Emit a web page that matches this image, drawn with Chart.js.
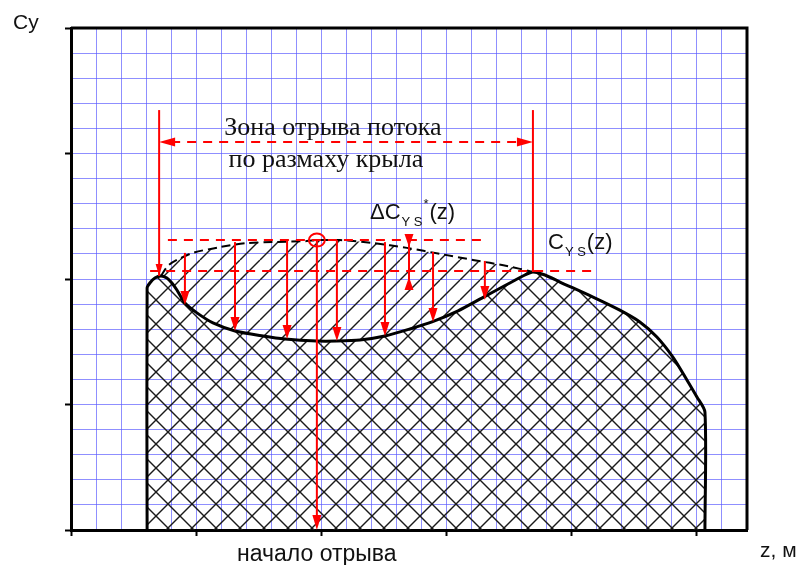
<!DOCTYPE html>
<html lang="ru">
<head>
<meta charset="utf-8">
<title>Cy(z)</title>
<script src="https://cdn.jsdelivr.net/npm/chart.js@4"></script>
<style>
  html, body { margin: 0; padding: 0; background: #fff; }
  #wrap { width: 800px; height: 565px; position: relative; }
</style>
</head>
<body>
<div id="wrap"><canvas id="cyChart"></canvas></div>
<script>
/* ── Data (grid units: z along the span, Cy up) ───────────────── */

// Lift distribution Cy(z) with separation dip
const liftZ  = [3.04, 3.04, 3.15, 3.35, 3.59, 3.83, 4.03, 4.23, 4.55, 5.03, 5.67, 6.55, 7.67, 8.55, 9.82, 10.62, 11.54, 12.54, 13.54, 14.42, 15.46, 16.41, 17.45, 18.13, 18.45, 18.93, 19.53, 20.85, 21.92, 22.72, 23.40, 24.04, 24.60, 25.00, 25.32, 25.32];
const liftCy = [0, 9.64, 9.84, 10.04, 10.12, 10.04, 9.84, 9.56, 9.04, 8.65, 8.25, 7.93, 7.73, 7.61, 7.53, 7.53, 7.57, 7.73, 8.01, 8.29, 8.73, 9.24, 9.80, 10.16, 10.28, 10.16, 9.88, 9.28, 8.76, 8.29, 7.69, 6.89, 5.98, 5.30, 4.70, 0];

// Attached-flow distribution C_YS(z) over the separation zone (dashed)
const attZ  = [3.59, 3.87, 4.23, 4.87, 5.95, 7.03, 8.07, 9.42, 9.82, 10.74, 12.06, 13.42, 14.74, 16.05, 17.41, 18.45];
const attCy = [10.12, 10.52, 10.76, 11.04, 11.27, 11.43, 11.47, 11.51, 11.55, 11.55, 11.43, 11.24, 11.00, 10.76, 10.52, 10.28];

// Loss arrows ΔC_YS*(z): station, start, tip
const lossZ   = [4.55, 6.55, 8.63, 10.62, 12.54, 14.46, 16.53];
const lossTop = [11.04, 11.47, 11.59, 11.55, 11.47, 11.08, 10.72];
const lossTip = [8.96, 7.93, 7.61, 7.53, 7.73, 8.29, 9.16];

// Separation zone bounds and levels
const zoneZ      = [3.52, 18.45];
const zoneBottom = [10.12, 10.28];
const zoneTopCy  = 16.73;
const zoneDimCy  = 15.46;

const levelCy   = [11.55, 10.32];
const levelFrom = [3.87, 3.16];
const levelTo   = [16.46, 20.85];

const onsetZ  = 9.82;
const onsetCy = 11.55;

// ΔC dimension marker: top, upper tip, lower tip, bottom
const deltaZ  = 13.50;
const deltaCy = [11.79, 11.27, 10.08, 9.56];

// Axis extent and tick steps
const zMax = 27, cyMax = 20, minorStep = 1, majorStep = 5;

/* ── Styling ──────────────────────────────────────────────────── */
const GRID_BLUE = 'rgba(90,90,255,0.68)';
const RED = '#f00';
const INK = '#111';

function makeHatch(size, cross) {
  const c = document.createElement('canvas');
  c.width = size; c.height = size;
  const g = c.getContext('2d');
  g.strokeStyle = '#1a1a1a';
  g.lineWidth = 1.4;
  const seg = (x0, y0, x1, y1) => { g.beginPath(); g.moveTo(x0, y0); g.lineTo(x1, y1); g.stroke(); };
  for (const k of [-size, 0, size]) {
    seg(k, size, k + size, 0);                  // "/"
    if (cross) seg(k, 0, k + size, size);       // "\"
  }
  return g.createPattern(c, 'repeat');
}

const crossHatch = makeHatch(24, true);
const diagHatch  = makeHatch(20, false);

/* ── Annotation plugin ────────────────────────────────────────── */
function arrowHead(ctx, x, y, dir, len = 14, half = 4) {
  // dir: 'down' | 'up' | 'left' | 'right' (tip at x,y)
  ctx.beginPath();
  ctx.moveTo(x, y);
  if (dir === 'down')  { ctx.lineTo(x - half, y - len); ctx.lineTo(x + half, y - len); }
  if (dir === 'up')    { ctx.lineTo(x - half, y + len); ctx.lineTo(x + half, y + len); }
  if (dir === 'left')  { ctx.lineTo(x + len, y - half); ctx.lineTo(x + len, y + half); }
  if (dir === 'right') { ctx.lineTo(x - len, y - half); ctx.lineTo(x - len, y + half); }
  ctx.closePath();
  ctx.fill();
}

function line(ctx, x0, y0, x1, y1) {
  ctx.beginPath(); ctx.moveTo(x0, y0); ctx.lineTo(x1, y1); ctx.stroke();
}

function subText(ctx, x, y, base, sub, sup, tail, size) {
  // e.g. C_YS*(z) with a letter-spaced subscript
  ctx.font = `${size}px "Liberation Sans", Arial, sans-serif`;
  ctx.fillText(base, x, y);
  x += ctx.measureText(base).width + 1;
  ctx.font = `${Math.round(size * 0.6)}px "Liberation Sans", Arial, sans-serif`;
  ctx.fillText(sub, x, y + 7);
  const subW = ctx.measureText(sub).width;
  if (sup) ctx.fillText(sup, x + subW + 1, y - 11);
  x += subW + (sup ? 7 : 1);
  ctx.font = `${size}px "Liberation Sans", Arial, sans-serif`;
  ctx.fillText(tail, x, y);
}

const annotations = {
  id: 'annotations',
  afterDatasetsDraw(chart) {
    const { ctx, chartArea: a, scales: { x, y } } = chart;
    const px = v => x.getPixelForValue(v);
    const py = v => y.getPixelForValue(v);

    ctx.save();

    // frame: top and right edges
    ctx.strokeStyle = '#000';
    ctx.lineWidth = 3;
    ctx.beginPath();
    ctx.moveTo(a.left, a.top); ctx.lineTo(a.right, a.top); ctx.lineTo(a.right, a.bottom);
    ctx.stroke();

    ctx.strokeStyle = RED;
    ctx.fillStyle = RED;
    ctx.lineWidth = 2;

    // dashed level lines
    ctx.setLineDash([9, 7]);
    levelCy.forEach((c, i) => line(ctx, px(levelFrom[i]), py(c), px(levelTo[i]), py(c)));
    // zone dimension line
    line(ctx, px(zoneZ[0]) + 12, py(zoneDimCy), px(zoneZ[1]) - 12, py(zoneDimCy));
    ctx.setLineDash([]);
    arrowHead(ctx, px(zoneZ[0]), py(zoneDimCy), 'left', 16, 4.5);
    arrowHead(ctx, px(zoneZ[1]), py(zoneDimCy), 'right', 16, 4.5);

    // zone bounds
    zoneZ.forEach((z, i) => line(ctx, px(z), py(zoneTopCy), px(z), py(zoneBottom[i])));
    arrowHead(ctx, px(zoneZ[0]), py(zoneBottom[0]), 'down', 12, 3.5);

    // loss arrows
    lossZ.forEach((z, i) => {
      line(ctx, px(z), py(lossTop[i]), px(z), py(lossTip[i]) - 8);
      arrowHead(ctx, px(z), py(lossTip[i]), 'down', 14, 4.5);
    });

    // separation onset marker
    line(ctx, px(onsetZ), py(onsetCy), px(onsetZ), py(0) - 8);
    arrowHead(ctx, px(onsetZ), py(0), 'down', 15, 4.5);
    ctx.beginPath();
    ctx.ellipse(px(onsetZ), py(onsetCy), 8, 6.5, 0, 0, Math.PI * 2);
    ctx.stroke();

    // ΔC dimension marker
    line(ctx, px(deltaZ), py(deltaCy[0]), px(deltaZ), py(deltaCy[3]));
    arrowHead(ctx, px(deltaZ), py(deltaCy[1]), 'down', 13, 4.5);
    arrowHead(ctx, px(deltaZ), py(deltaCy[2]), 'up', 13, 4.5);

    // labels
    ctx.fillStyle = INK;
    ctx.textBaseline = 'alphabetic';
    ctx.textAlign = 'center';
    ctx.font = '26px "Liberation Serif", "Times New Roman", serif';
    ctx.fillText('Зона отрыва потока', px(10.46), py(15.72));
    ctx.fillText('по размаху крыла', px(10.18), py(14.45));

    ctx.font = '23px "Liberation Sans", Arial, sans-serif';
    ctx.fillText('начало отрыва', px(onsetZ), 561);

    ctx.textAlign = 'left';
    subText(ctx, 370, 219, 'ΔC', 'Y S', '*', '(z)', 22);
    subText(ctx, 548, 249, 'C', 'Y S', null, '(z)', 22);

    ctx.font = '21px "Liberation Sans", Arial, sans-serif';
    ctx.fillText('Cy', 13, 29);
    ctx.fillText('z, м', 760, 557);

    ctx.restore();
  }
};

/* ── Chart ────────────────────────────────────────────────────── */
const toPoints = (xs, ys) => xs.map((v, i) => ({ x: v, y: ys[i] }));
const majorTick = ctx => (ctx.tick && ctx.tick.value % majorStep === 0 ? '#000' : 'rgba(0,0,0,0)');

new Chart(document.getElementById('cyChart'), {
  type: 'line',
  data: {
    datasets: [
      {
        label: 'Cy(z)',
        data: toPoints(liftZ, liftCy),
        borderColor: '#000',
        borderWidth: 3,
        pointRadius: 0,
        tension: 0.25,
        fill: 'origin',
        backgroundColor: crossHatch,
      },
      {
        label: 'CYS(z)',
        data: toPoints(attZ, attCy),
        borderColor: '#000',
        borderWidth: 2,
        borderDash: [9, 5],
        pointRadius: 0,
        tension: 0.3,
        fill: { target: 0 },
        backgroundColor: diagHatch,
      },
    ],
  },
  options: {
    responsive: true,
    maintainAspectRatio: false,
    animation: false,
    layout: { padding: { left: 0, top: 28, right: 53, bottom: 0 } },
    plugins: { legend: { display: false }, tooltip: { enabled: false } },
    scales: {
      x: {
        type: 'linear',
        min: 0, max: zMax,
        afterFit: s => { s.height = 35; },
        ticks: { stepSize: minorStep, display: false, autoSkip: false },
        grid: { color: GRID_BLUE, lineWidth: 1, tickLength: 6, tickWidth: 2, tickColor: majorTick },
        border: { color: '#000', width: 3 },
      },
      y: {
        type: 'linear',
        min: 0, max: cyMax,
        afterFit: s => { s.width = 71; },
        ticks: { stepSize: minorStep, display: false, autoSkip: false },
        grid: { color: GRID_BLUE, lineWidth: 1, tickLength: 6, tickWidth: 2, tickColor: majorTick },
        border: { color: '#000', width: 3 },
      },
    },
  },
  plugins: [annotations],
});
</script>
</body>
</html>
